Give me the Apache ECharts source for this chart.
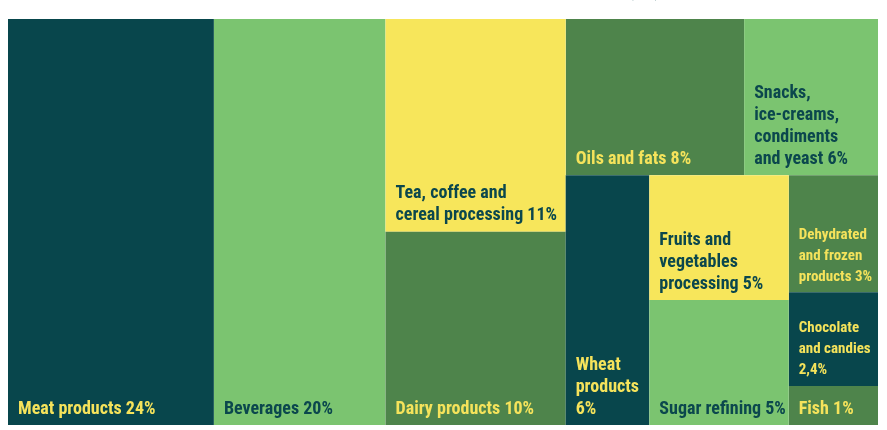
<!DOCTYPE html>
<html>
<head>
<meta charset="utf-8">
<script src="https://cdn.jsdelivr.net/npm/echarts@6/dist/echarts.min.js"></script>
<style>
  html, body { margin: 0; padding: 0; background: #ffffff; }
  #chart { width: 887px; height: 430px; }
</style>
</head>
<body>
<div id="chart"></div>
<script>
// Branches of the food industry and their share of output
const categories = [
  'Meat products', 'Beverages', 'Tea, coffee and cereal processing', 'Dairy products',
  'Oils and fats', 'Snacks, ice-creams, condiments and yeast', 'Wheat products',
  'Fruits and vegetables processing', 'Sugar refining', 'Dehydrated and frozen products',
  'Chocolate and candies', 'Fish'
];
const shares = [24, 20, 11, 10, 8, 6, 6, 5, 5, 3, 2.4, 1];
const shareText = ['24%', '20%', '11%', '10%', '8%', '6%', '6%', '5%', '5%', '3%', '2,4%', '1%'];
// tile captions, broken into lines
const captionLines = [
  'Meat products', 'Beverages', 'Tea, coffee and\ncereal processing', 'Dairy products',
  'Oils and fats', 'Snacks,\nice-creams,\ncondiments\nand yeast', 'Wheat\nproducts\n',
  'Fruits and\nvegetables\nprocessing', 'Sugar refining', 'Dehydrated\nand frozen\nproducts',
  'Chocolate\nand candies\n', 'Fish'
];

// how the tiles are grouped (indices into categories)
const nesting = [[0, [1, [2, 3]]], [[4, 5], [[6, [7, 8]], [9, 10, 11]]]];

// palette
const TEAL = '#08464c', LIGHT = '#7bc470', YELLOW = '#f7e65b', GREEN = '#4e844b';
const cellFill = [TEAL, LIGHT, YELLOW, GREEN, GREEN, LIGHT, TEAL, YELLOW, LIGHT, GREEN, TEAL, GREEN];
const smallCaption = [9, 10];
const FONT = "'Roboto Condensed', 'Open Sans Condensed', 'DejaVu Sans Condensed', sans-serif";

function caption(i) {
  const body = captionLines[i];
  return body + (body.endsWith('\n') ? '' : ' ') + shareText[i];
}

function leaf(i) {
  const dark = cellFill[i] === TEAL || cellFill[i] === GREEN;
  const small = smallCaption.indexOf(i) >= 0;
  return {
    name: categories[i],
    value: shares[i],
    itemStyle: { color: cellFill[i] },
    label: {
      formatter: caption(i),
      color: dark ? '#f5e35b' : '#0b474d',
      fontSize: small ? 15 : 18,
      lineHeight: small ? 21 : 22
    }
  };
}

function build(node) {
  return Array.isArray(node) ? { name: '', children: node.map(build) } : leaf(node);
}

const chart = echarts.init(document.getElementById('chart'), null, { renderer: 'canvas' });
chart.setOption({
  animation: false,
  graphic: [{
    type: 'text',
    x: 625,
    y: -14,
    style: {
      text: '(%)',
      font: "bold 30px 'Roboto Condensed', sans-serif",
      fill: '#0b474d',
      verticalAlign: 'middle'
    }
  }],
  series: [{
    type: 'treemap',
    left: 8, top: 19, width: 870, height: 406,
    sort: false,
    squareRatio: 1.22,
    roam: false,
    nodeClick: false,
    breadcrumb: { show: false },
    itemStyle: { borderWidth: 0, gapWidth: 0, borderColor: 'rgba(255,255,255,0.3)' },
    upperLabel: { show: false },
    label: {
      show: true,
      position: 'insideBottomLeft',
      distance: 5,
      padding: [0, 0, 0, 5],
      fontFamily: FONT,
      fontWeight: 'bold',
      fontSize: 18,
      overflow: 'none'
    },
    emphasis: { disabled: true },
    data: nesting.map(build)
  }]
});
</script>
</body>
</html>
